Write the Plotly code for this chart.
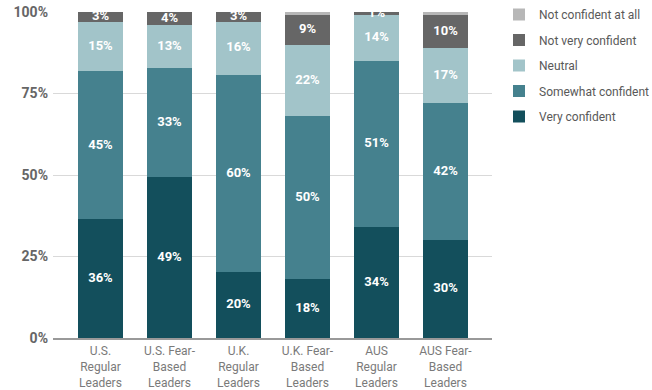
import plotly.graph_objects as go

categories = ["U.S.<br>Regular<br>Leaders", "U.S. Fear-<br>Based<br>Leaders",
              "U.K.<br>Regular<br>Leaders", "U.K. Fear-<br>Based<br>Leaders",
              "AUS<br>Regular<br>Leaders", "AUS Fear-<br>Based<br>Leaders"]

very_confident = [36, 49, 20, 18, 34, 30]
somewhat_confident = [45, 33, 60, 50, 51, 42]
neutral = [15, 13, 16, 22, 14, 17]
not_very_confident = [3, 4, 3, 9, 1, 10]
not_confident_at_all = [0, 0, 0, 1, 0, 1]

series = [
    ("Very confident", very_confident, "#134f5c", True),
    ("Somewhat confident", somewhat_confident, "#45818e", True),
    ("Neutral", neutral, "#a2c4c9", True),
    ("Not very confident", not_very_confident, "#666666", True),
    ("Not confident at all", not_confident_at_all, "#b7b7b7", False),
]

# column totals, used to place each value label at the middle of its
# segment on the 100% stacked scale
totals = [sum(col) for col in zip(*[s[1] for s in series])]

fig = go.Figure()
base = [0.0] * len(categories)
for rank, (name, vals, color, labelled) in enumerate(series):
    fig.add_trace(go.Bar(
        name=name, x=categories, y=vals, legendgroup=name,
        legendrank=len(series) - rank,
        marker=dict(color=color, line=dict(width=0)),
        textposition="none",
    ))
    mids = []
    for i, v in enumerate(vals):
        share = 100.0 * v / totals[i]
        mids.append(base[i] + share / 2)
        base[i] += share
    if labelled:
        fig.add_trace(go.Scatter(
            x=categories, y=mids, mode="text",
            text=[f"{v}%" for v in vals],
            textposition="middle center",
            textfont=dict(family="Roboto", size=13, color="white", weight="bold"),
            showlegend=False, hoverinfo="skip", cliponaxis=False,
        ))

fig.update_layout(
    barmode="stack",
    barnorm="percent",
    bargap=0.348,
    width=652, height=390,
    margin=dict(l=53, r=160, t=12, b=52, autoexpand=False),
    paper_bgcolor="white", plot_bgcolor="white",
    font=dict(family="Roboto", color="#666666", size=12),
    legend=dict(
        traceorder="grouped",
        xref="container", yref="container",
        x=499 / 652, y=1 + 5 / 390, xanchor="left", yanchor="top",
        font=dict(family="Roboto", size=12, color="#595959"),
        tracegroupgap=6.5,
    ),
    showlegend=True,
)
fig.update_yaxes(
    range=[0, 100], tickvals=[0, 25, 50, 75, 100],
    ticktext=["0%", "25%", "50%", "75%", "100%"],
    showgrid=True, gridcolor="#d9d9d9", gridwidth=1,
    zeroline=False, ticks="", ticklabelstandoff=4,
    automargin=False,
    tickfont=dict(family="Roboto", size=14, color="#666666", weight="bold"),
)
fig.update_xaxes(
    range=[-0.688, 5.674],
    showline=True, linecolor="#999999", linewidth=2,
    tickfont=dict(family="Roboto", size=12, color="#7a7a7a"),
    ticks="", ticklabelstandoff=1, automargin=False,
)

fig.write_html("out.html")
